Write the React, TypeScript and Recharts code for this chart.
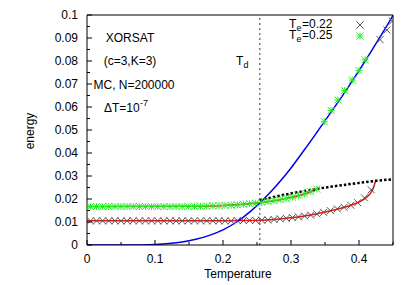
import React from 'react';
import {
  ComposedChart,
  Line,
  Scatter,
  XAxis,
  YAxis,
  ReferenceLine,
} from 'recharts';

// upper branch (T_e = 0.25): red fit line + green star markers
const upperLineT = [0, 0.15, 0.2, 0.23, 0.254, 0.28, 0.3, 0.32, 0.34];
const upperLineE = [0.0167, 0.0168, 0.0172, 0.0177, 0.0184, 0.0195, 0.0207, 0.0222, 0.0245];

// lower branch (T_e = 0.22): red fit line + black cross markers
const lowerLineT = [0, 0.2, 0.22, 0.25, 0.27, 0.29, 0.3, 0.32, 0.34, 0.36, 0.38, 0.39, 0.4, 0.41, 0.42, 0.425];
const lowerLineE = [0.0105, 0.0105, 0.0106, 0.0107, 0.011, 0.0115, 0.0118, 0.0126, 0.0137, 0.015, 0.0165, 0.0175, 0.0187, 0.0205, 0.024, 0.0285];

// equilibrium curve (blue)
const eqT = [0, 0.06, 0.08, 0.1, 0.12, 0.14, 0.16, 0.18, 0.2, 0.22, 0.24, 0.26, 0.28, 0.3, 0.32, 0.34, 0.36, 0.38, 0.4, 0.42, 0.44, 0.45];
const eqE = [0, 0, 0.00003, 0.0002, 0.0006, 0.0013, 0.0025, 0.0042, 0.0066, 0.01, 0.0145, 0.02, 0.0263, 0.0335, 0.0415, 0.0498, 0.0582, 0.0668, 0.0758, 0.0852, 0.0948, 0.0999];

// black dotted line from T_d
const dotT = [0.254, 0.28, 0.3, 0.32, 0.34, 0.36, 0.38, 0.4, 0.42, 0.45];
const dotE = [0.0195, 0.0212, 0.0224, 0.0235, 0.0245, 0.0254, 0.0262, 0.027, 0.0277, 0.0286];

// MC markers, T_e = 0.22
const crossT = [
  0.005, 0.014, 0.023, 0.032, 0.041, 0.05, 0.059, 0.068, 0.077, 0.086, 0.095, 0.104,
  0.113, 0.122, 0.131, 0.14, 0.149, 0.158, 0.167, 0.176, 0.185, 0.194, 0.203, 0.212,
  0.221, 0.23, 0.239, 0.248, 0.257, 0.266, 0.275, 0.284, 0.293, 0.302, 0.311, 0.32,
  0.329, 0.338, 0.348, 0.358, 0.368, 0.378, 0.388, 0.398, 0.408, 0.418,
  0.431, 0.441, 0.449,
];
const crossE = [
  0.0105, 0.0105, 0.0105, 0.0105, 0.0105, 0.0105, 0.0105, 0.0105, 0.0105, 0.0105, 0.0105, 0.0105,
  0.0105, 0.0105, 0.0105, 0.0105, 0.0105, 0.0105, 0.0105, 0.0105, 0.0105, 0.0105, 0.0105, 0.0105,
  0.0106, 0.0106, 0.0107, 0.0107, 0.0108, 0.0109, 0.0111, 0.0114, 0.0116, 0.0119, 0.0122, 0.0126,
  0.013, 0.0135, 0.0142, 0.0149, 0.0157, 0.0164, 0.0173, 0.0184, 0.0205, 0.024,
  0.0893, 0.0935, 0.0973,
];

// MC markers, T_e = 0.25
const starT = [
  0.005, 0.014, 0.023, 0.032, 0.041, 0.05, 0.059, 0.068, 0.077, 0.086, 0.095, 0.104,
  0.113, 0.122, 0.131, 0.14, 0.149, 0.158, 0.167, 0.176, 0.185, 0.194, 0.203, 0.212,
  0.221, 0.23, 0.239, 0.248, 0.257, 0.266, 0.275, 0.284, 0.293, 0.302, 0.311, 0.32,
  0.329, 0.338,
  0.349, 0.359, 0.369, 0.379, 0.39, 0.4, 0.409,
];
const starE = [
  0.0167, 0.0167, 0.0167, 0.0167, 0.0167, 0.0167, 0.0167, 0.0167, 0.0167, 0.0167, 0.0167, 0.0167,
  0.0167, 0.0167, 0.0167, 0.0167, 0.0167, 0.0168, 0.0168, 0.0169, 0.017, 0.0171, 0.0172, 0.0173,
  0.0175, 0.0177, 0.0179, 0.0182, 0.0185, 0.0189, 0.0193, 0.0197, 0.0202, 0.0208, 0.0214, 0.0222,
  0.0232, 0.0243,
  0.0536, 0.0585, 0.063, 0.0672, 0.0717, 0.0758, 0.0805,
];

const xTicks = [0, 0.05, 0.1, 0.15, 0.2, 0.25, 0.3, 0.35, 0.4, 0.45];
const yTicks = [
  0, 0.005, 0.01, 0.015, 0.02, 0.025, 0.03, 0.035, 0.04, 0.045, 0.05,
  0.055, 0.06, 0.065, 0.07, 0.075, 0.08, 0.085, 0.09, 0.095, 0.1,
];
const legendLabels = ['=0.22', '=0.25'];
const T_D = 0.254;

const zip = (t: number[], e: number[]) => t.map((T, i) => ({ T, e: e[i] }));

const W = 407;
const H = 285;
const L = 87;
const R = 393;
const TOP = 15;
const B = 245;
const FONT = '"Liberation Sans", Arial, sans-serif';

const fmt = (v: number) => String(Number(v.toFixed(3)));
const onGrid = (v: number, step: number) => Math.abs(v / step - Math.round(v / step)) < 1e-6;

const LeftTick = (p: any) => {
  const v = p.payload.value;
  const y = p.payload.coordinate;
  const major = onGrid(v, 0.01);
  return (
    <g>
      <line x1={L} x2={L + (major ? 5 : 3)} y1={y} y2={y} stroke="#000" />
      {major && (
        <text x={78} y={y + 4} textAnchor="end" fontSize={12} fontFamily={FONT} fill="#000">
          {fmt(v)}
        </text>
      )}
    </g>
  );
};

const RightTick = (p: any) => {
  const major = onGrid(p.payload.value, 0.01);
  const y = p.payload.coordinate;
  return <line x1={R} x2={R - (major ? 5 : 3)} y1={y} y2={y} stroke="#000" />;
};

const BottomTick = (p: any) => {
  const v = p.payload.value;
  const x = p.payload.coordinate;
  const major = onGrid(v, 0.1);
  return (
    <g>
      <line x1={x} x2={x} y1={B} y2={B - (major ? 5 : 3)} stroke="#000" />
      {major && (
        <text x={x} y={263} textAnchor="middle" fontSize={12} fontFamily={FONT} fill="#000">
          {fmt(v)}
        </text>
      )}
    </g>
  );
};

const TopTick = (p: any) => {
  const major = onGrid(p.payload.value, 0.1);
  const x = p.payload.coordinate;
  return <line x1={x} x2={x} y1={TOP} y2={TOP + (major ? 5 : 3)} stroke="#000" />;
};

const CROSS_COLOR = '#555';
const STAR_COLOR = '#22ee22';

const Cross = (p: any) => {
  const { cx, cy } = p;
  const s = 3.5;
  return (
    <path
      d={`M${cx - s},${cy - s}L${cx + s},${cy + s}M${cx - s},${cy + s}L${cx + s},${cy - s}`}
      stroke={CROSS_COLOR}
      strokeWidth={1}
      fill="none"
    />
  );
};

const Star = (p: any) => {
  const { cx, cy } = p;
  const s = 3.5;
  return (
    <path
      d={`M${cx - s},${cy - s}L${cx + s},${cy + s}M${cx - s},${cy + s}L${cx + s},${cy - s}M${cx - s},${cy}L${cx + s},${cy}M${cx},${cy - s}L${cx},${cy + s}`}
      stroke={STAR_COLOR}
      strokeWidth={1}
      fill="none"
    />
  );
};

const App = () => {
  return (
    <div style={{ position: 'absolute', left: 0, top: 0, width: W, height: H, background: '#fff' }}>
      <ComposedChart
        width={W}
        height={H}
        margin={{ top: TOP - 5, right: W - R - 5, bottom: H - B - 30, left: L - 40 }}
      >
        <XAxis
          dataKey="T"
          type="number"
          domain={[0, 0.45]}
          ticks={xTicks}
          interval={0}
          height={30}
          allowDataOverflow
          axisLine={{ stroke: '#000' }}
          tickLine={false}
          tick={BottomTick}
        />
        <XAxis
          xAxisId="top"
          orientation="top"
          type="number"
          domain={[0, 0.45]}
          ticks={xTicks}
          interval={0}
          height={5}
          axisLine={{ stroke: '#000' }}
          tickLine={false}
          tick={TopTick}
        />
        <YAxis
          dataKey="e"
          type="number"
          domain={[0, 0.1]}
          ticks={yTicks}
          interval={0}
          width={40}
          allowDataOverflow
          axisLine={{ stroke: '#000' }}
          tickLine={false}
          tick={LeftTick}
        />
        <YAxis
          yAxisId="right"
          orientation="right"
          type="number"
          domain={[0, 0.1]}
          ticks={yTicks}
          interval={0}
          width={5}
          axisLine={{ stroke: '#000' }}
          tickLine={false}
          tick={RightTick}
        />
        <ReferenceLine x={T_D} stroke="#777" strokeWidth={1.5} strokeDasharray="2 3" />
        <Scatter data={zip(crossT, crossE)} shape={Cross} isAnimationActive={false} />
        <Scatter data={zip(starT, starE)} shape={Star} isAnimationActive={false} />
        <Line
          data={zip(upperLineT, upperLineE)}
          dataKey="e"
          type="monotone"
          stroke="#ee1111"
          strokeWidth={1.5}
          dot={false}
          isAnimationActive={false}
        />
        <Line
          data={zip(lowerLineT, lowerLineE)}
          dataKey="e"
          type="monotone"
          stroke="#ee1111"
          strokeWidth={1.5}
          dot={false}
          isAnimationActive={false}
        />
        <Line
          data={zip(eqT, eqE)}
          dataKey="e"
          type="monotone"
          stroke="#0000ee"
          strokeWidth={1.5}
          dot={false}
          isAnimationActive={false}
        />
        <Line
          data={zip(dotT, dotE)}
          dataKey="e"
          type="monotone"
          stroke="#000"
          strokeWidth={2.5}
          strokeDasharray="2.5 2"
          dot={false}
          isAnimationActive={false}
        />
      </ComposedChart>
      <svg
        width={W}
        height={H}
        style={{ position: 'absolute', left: 0, top: 0, pointerEvents: 'none' }}
        fontFamily={FONT}
        fontSize={12}
      >
        <text x={130} y={42} textAnchor="middle">XORSAT</text>
        <text x={130} y={65} textAnchor="middle">(c=3,K=3)</text>
        <text x={134} y={89} textAnchor="middle">MC, N=200000</text>
        <text x={104} y={112}>ΔT=10</text>
        <text x={140} y={106} fontSize={9}>-7</text>
        <text x={236} y={65}>T</text>
        <text x={243.5} y={68} fontSize={9}>d</text>
        {legendLabels.map((lab, i) => (
          <g key={lab}>
            <text x={289} y={28 + i * 11}>T</text>
            <text x={296.5} y={31 + i * 11} fontSize={9}>e</text>
            <text x={302} y={28 + i * 11}>{lab}</text>
          </g>
        ))}
        <Cross cx={360} cy={25} />
        <Star cx={360} cy={36} />
        <text x={238} y={278} textAnchor="middle">Temperature</text>
        <text x={34} y={131} textAnchor="middle" transform="rotate(-90 34 131)">energy</text>
      </svg>
    </div>
  );
};

export default App;
